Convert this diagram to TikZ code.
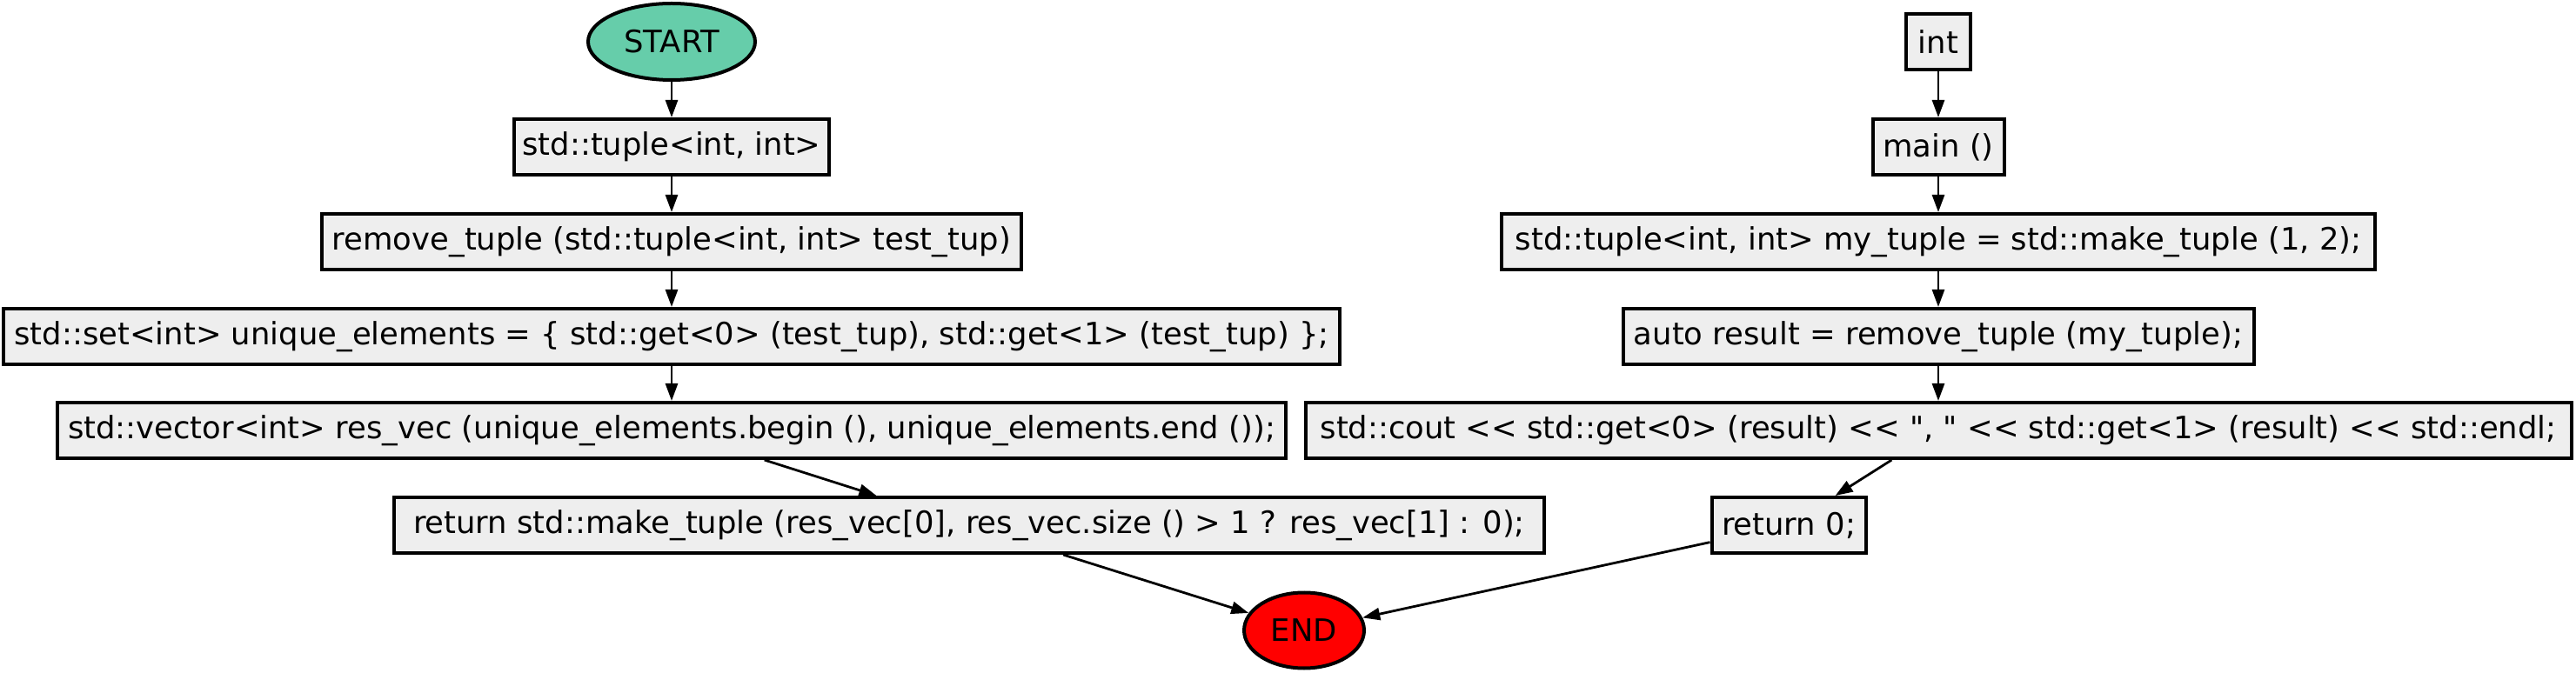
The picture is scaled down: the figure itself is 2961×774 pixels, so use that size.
\documentclass[tikz,border=0pt]{standalone}
\usepackage{fontspec}
\setmainfont{DejaVu Sans}[Ligatures=TeXOff]
\usetikzlibrary{arrows.meta,shapes.geometric}
\definecolor{boxgray}{HTML}{EEEEEE}
\definecolor{startgreen}{HTML}{66CDAA}
\definecolor{endred}{HTML}{FF0000}
\begin{document}
\begin{tikzpicture}[x=0.5pt,y=-0.5pt,
  box/.style={draw, line width=2pt, fill=boxgray, minimum height=32pt, inner sep=0pt, font=\fontsize{17.7pt}{21pt}\selectfont},
  oval/.style={draw, ellipse, line width=2pt, inner sep=0pt, font=\fontsize{17.7pt}{21pt}\selectfont},
  flow/.style={line width=1.4pt, -{Triangle[length=10pt,width=7pt]}}]
\useasboundingbox (0,0) rectangle (2961,774);
\node[oval, fill=startgreen, minimum width=96pt, minimum height=44pt] (start) at (772,48) {START};
\node[box, minimum width=181pt] (t1) at (772,169) {std::tuple<int, int>};
\node[box, minimum width=402pt] (t2) at (772,278) {remove\_tuple (std::tuple<int, int> test\_tup)};
\node[box, minimum width=768pt] (t3) at (772,387) {std::set<int> unique\_elements = \{ std::get<0> (test\_tup), std::get<1> (test\_tup) \};};
\node[box, minimum width=706pt] (t4) at (772,495) {std::vector<int> res\_vec (unique\_elements.begin (), unique\_elements.end ());};
\node[box, minimum width=661pt] (t5) at (1114,604) {return std::make\_tuple (res\_vec[0], res\_vec.size () > 1 ? res\_vec[1] : 0);};
\node[oval, fill=endred, minimum width=69pt, minimum height=43.5pt] (end) at (1499,725) {END};
\node[box, minimum width=37pt] (r1) at (2228,48) {int};
\node[box, minimum width=75.5pt] (r2) at (2228,169) {main ()};
\node[box, minimum width=502pt] (r3) at (2228,278) {std::tuple<int, int> my\_tuple = std::make\_tuple (1, 2);};
\node[box, minimum width=362.5pt] (r4) at (2228,387) {auto result = remove\_tuple (my\_tuple);};
\node[box, minimum width=727.5pt] (r5) at (2228,495) {std::cout <{}< std::get<0> (result) <{}< ", " <{}< std::get<1> (result) <{}< std::endl;};
\node[box, minimum width=88.5pt] (r6) at (2056,604) {return 0;};
\draw[flow] (start) -- (t1);
\draw[flow] (t1) -- (t2);
\draw[flow] (t2) -- (t3);
\draw[flow] (t3) -- (t4);
\draw[flow] (t4) -- (t5);
\draw[flow] (t5) -- (end);
\draw[flow] (r1) -- (r2);
\draw[flow] (r2) -- (r3);
\draw[flow] (r3) -- (r4);
\draw[flow] (r4) -- (r5);
\draw[flow] (r5) -- (r6);
\draw[flow] (r6) -- (end);
\end{tikzpicture}
\end{document}
